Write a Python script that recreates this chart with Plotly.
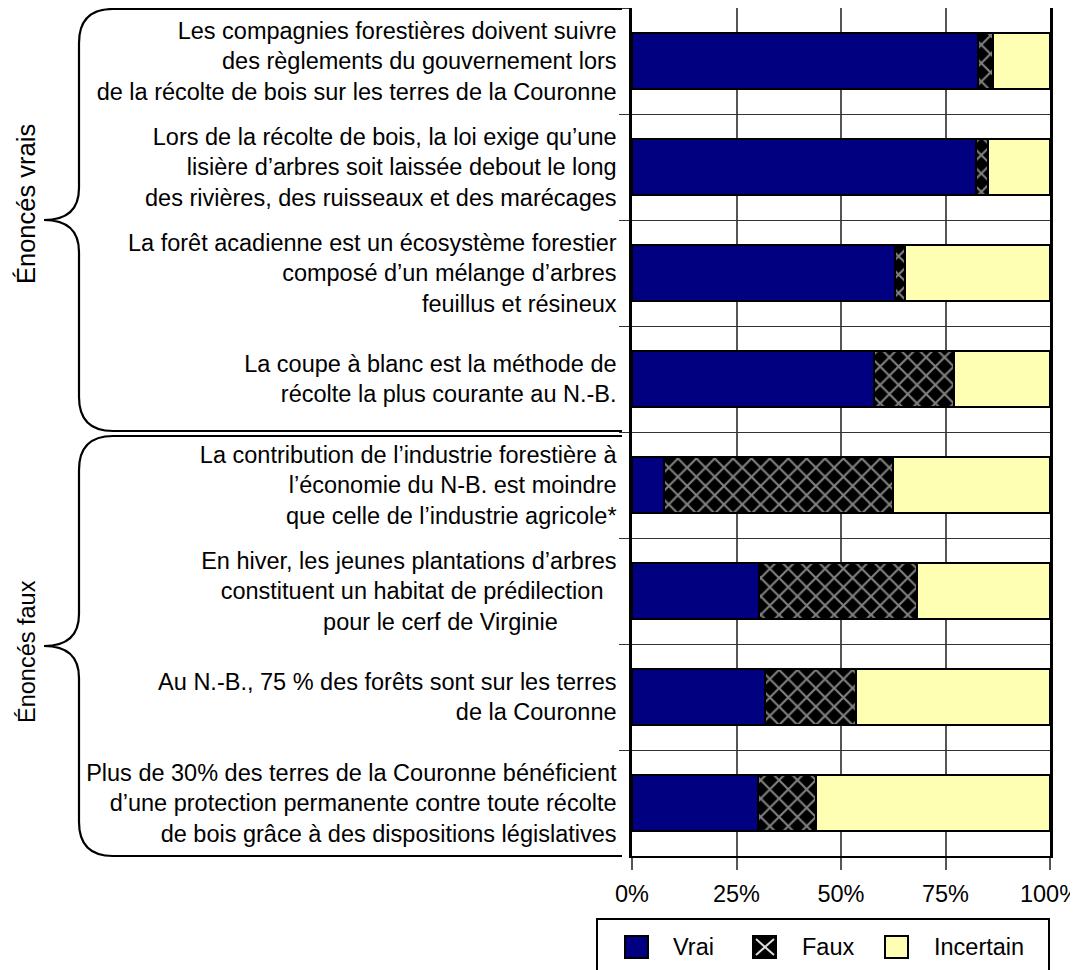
import plotly.graph_objects as go

# ---- data ----
categories = [
    "Les compagnies forestières doivent suivre<br>des règlements du gouvernement lors<br>de la récolte de bois sur les terres de la Couronne",
    "Lors de la récolte de bois, la loi exige qu’une<br>lisière d’arbres soit laissée debout le long<br>des rivières, des ruisseaux et des marécages",
    "La forêt acadienne est un écosystème forestier<br>composé d’un mélange d’arbres<br>feuillus et résineux",
    "La coupe à blanc est la méthode de<br>récolte la plus courante au N.-B.",
    "La contribution de l’industrie forestière à<br>l’économie du N-B. est moindre<br>que celle de l’industrie agricole*",
    "En hiver, les jeunes plantations d’arbres<br>constituent un habitat de prédilection\u00a0\u00a0<br>pour le cerf de Virginie\u00a0\u00a0\u00a0\u00a0\u00a0\u00a0\u00a0\u00a0\u00a0",
    "Au N.-B., 75 % des forêts sont sur les terres<br>de la Couronne",
    "Plus de 30% des terres de la Couronne bénéficient<br>d’une protection permanente contre toute récolte<br>de bois grâce à des dispositions législatives",
]
series_names = ["Vrai", "Faux", "Incertain"]
vrai = [82.7, 82.3, 62.8, 58.0, 7.7, 30.5, 31.7, 30.1]
faux = [3.6, 2.9, 2.5, 19.1, 54.7, 37.6, 22.0, 13.9]
incertain = [13.7, 14.8, 34.7, 22.9, 37.6, 31.9, 46.3, 56.0]
x_tickvals = [0, 25, 50, 75, 100]
x_ticktext = ["0%", "25%", "50%", "75%", "100%"]
group_labels = ["Énoncés vrais", "Énoncés faux"]

FONT = "Liberation Sans, Arial, sans-serif"
NAVY = "#000080"
YELLOW = "#FFFFB4"

# page offset (html body margin)
OFF = 8
W_FIG, H_FIG = 1078 - OFF, 970 - OFF
# plot area in page pixels
L, R, T, B = 632, 1050, 8, 856


def px(x):
    return (x - L) / (R - L)


def py(y):
    return (B - y) / (B - T)


fig = go.Figure()
fig.add_trace(go.Bar(
    y=categories, x=vrai, name=series_names[0], orientation="h",
    marker=dict(color=NAVY, line=dict(color="black", width=2)),
    width=0.52,
))
fig.add_trace(go.Bar(
    y=categories, x=faux, name=series_names[1], orientation="h",
    marker=dict(color="black", line=dict(color="black", width=2),
                pattern=dict(shape="x", bgcolor="black", fgcolor="white",
                             size=13, solidity=0.3)),
    width=0.52,
))
fig.add_trace(go.Bar(
    y=categories, x=incertain, name=series_names[2], orientation="h",
    marker=dict(color=YELLOW, line=dict(color="black", width=2)),
    width=0.52,
))


def brace(y_top, y_mid, y_bot, x_line=79, x_tip=44, r=34, x_end=632):
    pts = [
        f"M {px(x_end)},{py(y_top)}",
        f"L {px(x_line + r)},{py(y_top)}",
        f"Q {px(x_line)},{py(y_top)} {px(x_line)},{py(y_top + r)}",
        f"L {px(x_line)},{py(y_mid - 32)}",
        f"Q {px(x_line)},{py(y_mid)} {px(x_tip)},{py(y_mid)}",
        f"Q {px(x_line)},{py(y_mid)} {px(x_line)},{py(y_mid + 32)}",
        f"L {px(x_line)},{py(y_bot - r)}",
        f"Q {px(x_line)},{py(y_bot)} {px(x_line + r)},{py(y_bot)}",
        f"L {px(x_end)},{py(y_bot)}",
    ]
    return dict(type="path", xref="paper", yref="paper", path=" ".join(pts),
                line=dict(color="black", width=2.2), layer="above")


shapes = [brace(9, 220, 431, x_end=622), brace(436, 646, 856, x_end=622)]

# custom legend (box, swatches) in page pixels
leg_box = dict(type="rect", xref="paper", yref="paper",
               x0=px(597), x1=px(1049), y0=py(990), y1=py(919),
               line=dict(color="black", width=2), fillcolor="white", layer="above")
shapes.append(leg_box)
swatch_x = [625, 753, 885]
text_x = [671, 800, 932]
sw_top, sw_bot = 936, 958
swatch_fill = [NAVY, "black", YELLOW]
for i, x0 in enumerate(swatch_x):
    shapes.append(dict(type="rect", xref="paper", yref="paper",
                       x0=px(x0), x1=px(x0 + 23), y0=py(sw_bot), y1=py(sw_top),
                       line=dict(color="black", width=2), fillcolor=swatch_fill[i],
                       layer="above"))
# white cross for the hatched swatch
for (a, b, c, d) in [(756, 939, 774, 955), (756, 955, 774, 939)]:
    shapes.append(dict(type="line", xref="paper", yref="paper",
                       x0=px(a), y0=py(b), x1=px(c), y1=py(d),
                       line=dict(color="#DDDDDD", width=2), layer="above"))

annotations = [
    dict(text=group_labels[0], xref="paper", yref="paper", x=px(26), y=py(204),
         xanchor="center", yanchor="middle",
         textangle=-90, showarrow=False, font=dict(size=25.5, color="black", family=FONT)),
    dict(text=group_labels[1], xref="paper", yref="paper", x=px(27), y=py(652),
         xanchor="center", yanchor="middle",
         textangle=-90, showarrow=False, font=dict(size=23.5, color="black", family=FONT)),
]
for i, name in enumerate(series_names):
    annotations.append(dict(text=name, xref="paper", yref="paper",
                            x=px(text_x[i]), y=py(947), xanchor="left", yanchor="middle",
                            showarrow=False, font=dict(size=23.5, color="black", family=FONT)))

fig.update_layout(
    width=W_FIG, height=H_FIG,
    barmode="stack",
    plot_bgcolor="white", paper_bgcolor="white",
    margin=dict(l=L - OFF, r=W_FIG - (R - OFF), t=T - OFF, b=H_FIG - (B - OFF),
                autoexpand=False),
    font=dict(family=FONT, size=23.5, color="black"),
    shapes=shapes,
    annotations=annotations,
    showlegend=False,
)
fig.update_xaxes(
    range=[0, 100], tickvals=x_tickvals, ticktext=x_ticktext,
    showgrid=True, gridcolor="#555555", gridwidth=1.5,
    ticks="outside", ticklen=12, tickcolor="#555555", tickwidth=1.5,
    showline=True, linecolor="black", linewidth=1.5, mirror=True,
    tickfont=dict(size=23.5, family=FONT, color="black"),
    ticklabeloverflow="allow", ticklabelstandoff=4,
    zeroline=False, fixedrange=True,
)
fig.update_yaxes(
    type="category", categoryorder="array", categoryarray=categories,
    autorange="reversed",
    tickson="boundaries", ticks="outside", ticklen=10, tickcolor="#333333", tickwidth=1,
    showgrid=True, gridcolor="#333333", gridwidth=1,
    showline=True, linecolor="black", linewidth=2.5, mirror=True,
    tickfont=dict(size=23.5, family=FONT, color="black"),
    ticklabelstandoff=8,
    fixedrange=True,
)

fig.write_html("out.html")
